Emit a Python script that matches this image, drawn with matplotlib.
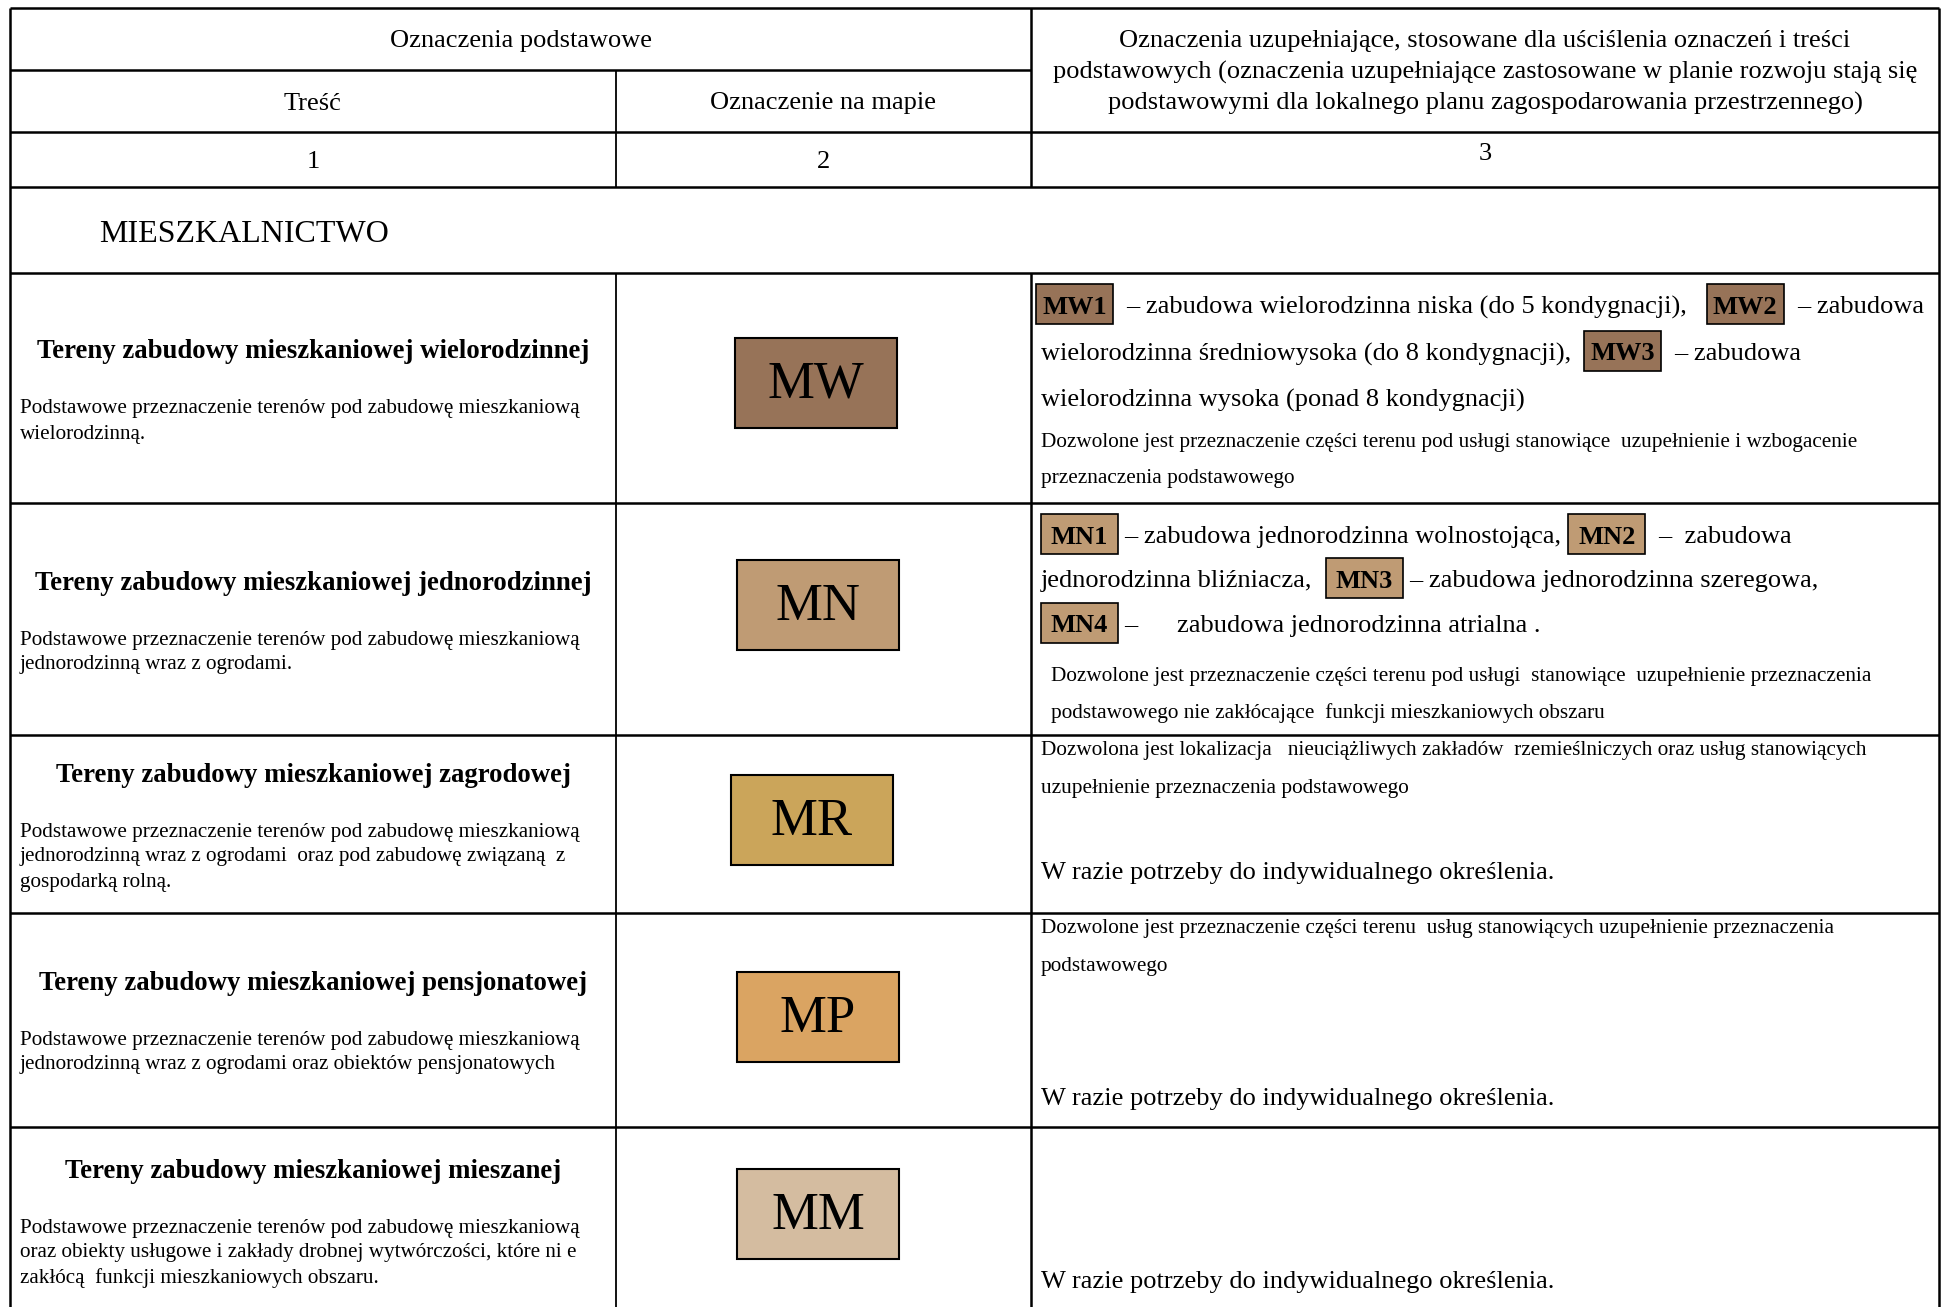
import matplotlib
matplotlib.use("Agg")
import matplotlib.pyplot as plt
from matplotlib.patches import Rectangle

plt.rcParams['font.family'] = ['Liberation Serif', 'DejaVu Serif']

# ---- table content ----
header_basic = "Oznaczenia podstawowe"
header_tresc = "Treść"
header_map = "Oznaczenie na mapie"
header_extra = ["Oznaczenia uzupełniające, stosowane dla uściślenia oznaczeń i treści",
                "podstawowych (oznaczenia uzupełniające zastosowane w planie rozwoju stają się",
                "podstawowymi dla lokalnego planu zagospodarowania przestrzennego)"]
col_numbers = ["1", "2", "3"]
section = "MIESZKALNICTWO"

codes = ["MW", "MN", "MR", "MP", "MM"]
code_colors = ["#977358", "#bf9b74", "#cba55a", "#daa462", "#d4bca0"]
titles = ["Tereny zabudowy mieszkaniowej wielorodzinnej",
          "Tereny zabudowy mieszkaniowej jednorodzinnej",
          "Tereny zabudowy mieszkaniowej zagrodowej",
          "Tereny zabudowy mieszkaniowej pensjonatowej",
          "Tereny zabudowy mieszkaniowej mieszanej"]
descriptions = [
    ["Podstawowe przeznaczenie terenów pod zabudowę mieszkaniową",
     "wielorodzinną."],
    ["Podstawowe przeznaczenie terenów pod zabudowę mieszkaniową",
     "jednorodzinną wraz z ogrodami."],
    ["Podstawowe przeznaczenie terenów pod zabudowę mieszkaniową",
     "jednorodzinną wraz z ogrodami  oraz pod zabudowę związaną  z",
     "gospodarką rolną."],
    ["Podstawowe przeznaczenie terenów pod zabudowę mieszkaniową",
     "jednorodzinną wraz z ogrodami oraz obiektów pensjonatowych"],
    ["Podstawowe przeznaczenie terenów pod zabudowę mieszkaniową",
     "oraz obiekty usługowe i zakłady drobnej wytwórczości, które ni e",
     "zakłócą  funkcji mieszkaniowych obszaru."],
]

# column 3: large lines (with inline code boxes) and small lines
extra_big = [
    [[("box", "MW1"), "  – zabudowa wielorodzinna niska (do 5 kondygnacji),   ", ("box", "MW2"), "  – zabudowa"],
     ["wielorodzinna średniowysoka (do 8 kondygnacji),  ", ("box", "MW3"), "  – zabudowa"],
     ["wielorodzinna wysoka (ponad 8 kondygnacji)"]],
    [[("box", "MN1"), " – zabudowa jednorodzinna wolnostojąca, ", ("box", "MN2"), "  –  zabudowa"],
     ["jednorodzinna bliźniacza,  ", ("box", "MN3"), " – zabudowa jednorodzinna szeregowa,"],
     [("box", "MN4"), " –      zabudowa jednorodzinna atrialna ."]],
    [], [], [],
]
extra_small = [
    ["Dozwolone jest przeznaczenie części terenu pod usługi stanowiące  uzupełnienie i wzbogacenie",
     "przeznaczenia podstawowego"],
    ["Dozwolone jest przeznaczenie części terenu pod usługi  stanowiące  uzupełnienie przeznaczenia",
     "podstawowego nie zakłócające  funkcji mieszkaniowych obszaru"],
    ["Dozwolona jest lokalizacja   nieuciążliwych zakładów  rzemieślniczych oraz usług stanowiących",
     "uzupełnienie przeznaczenia podstawowego"],
    ["Dozwolone jest przeznaczenie części terenu  usług stanowiących uzupełnienie przeznaczenia",
     "podstawowego"],
    [],
]
individual = "W razie potrzeby do indywidualnego określenia."
has_individual = [False, False, True, True, True]

# ---- layout (pixels) ----
W, H = 1946, 1307
X0, X1, X2, X3 = 10, 616, 1031, 1939
Y_TOP, Y_SUB, Y_NUM, Y_SEC, Y_ROW = 7.5, 69.5, 131.5, 187, 273
row_bounds = [273, 503, 735, 913, 1127, 1307]
DY = 3  # text baseline nudge
title_y = [349, 580, 772, 980, 1168]
desc_y0 = [406, 637, 829, 1037, 1225]
swatch_c = [(816, 383), (818, 605), (812, 820), (818, 1017), (818, 1214)]
big_y = [[304, 351, 397], [534, 578, 623], [], [], []]
box_x = [1036, 1041, 1041, 1041, 1041]
BOX_W, BOX_H = 77, 40
small_y = [[439, 476], [674, 710], [748, 786], [926, 963], []]
small_x = [1041, 1051, 1041, 1041, 1041]
indiv_y = [None, None, 870, 1096, 1279]

BIG, TITLE, SMALL, DESC = 19, 19.25, 15.3, 15.2

fig = plt.figure(figsize=(W / 100, H / 100), dpi=100)
ax = fig.add_axes([0, 0, 1, 1])
ax.set_xlim(0, W)
ax.set_ylim(H, 0)
ax.axis('off')
renderer = fig.canvas.get_renderer()

# ---- grid lines ----
lw = 1.8
ax.vlines([X0, X3], Y_TOP, H, color='black', lw=lw)
ax.vlines(X2, Y_TOP, Y_SEC, color='black', lw=lw)
ax.vlines(X2, Y_ROW, H, color='black', lw=lw)
ax.vlines(X1, Y_SUB, Y_SEC, color='black', lw=1.3)
ax.vlines(X1, Y_ROW, H, color='black', lw=1.3)
ax.hlines(Y_TOP, X0, X3, color='black', lw=lw)
ax.hlines(Y_SUB, X0, X2, color='black', lw=lw)
for y in [Y_NUM, Y_SEC] + row_bounds[:-1]:
    ax.hlines(y, X0, X3, color='black', lw=lw)

# ---- header ----
ax.text((X0 + X2) / 2, 38.5 + DY, header_basic, fontsize=BIG, ha='center', va='center')
ax.text((X0 + X1) / 2, 100.5 + DY, header_tresc, fontsize=BIG, ha='center', va='center')
ax.text((X1 + X2) / 2, 100.5 + DY, header_map, fontsize=BIG, ha='center', va='center')
for i, line in enumerate(header_extra):
    ax.text((X2 + X3) / 2, 38.5 + 31 * i + DY, line, fontsize=BIG, ha='center', va='center')
ax.text((X0 + X1) / 2, 159 + DY, col_numbers[0], fontsize=BIG, ha='center', va='center')
ax.text((X1 + X2) / 2, 159 + DY, col_numbers[1], fontsize=BIG, ha='center', va='center')
ax.text((X2 + X3) / 2, 151 + DY, col_numbers[2], fontsize=BIG, ha='center', va='center')
ax.text(99, 231 + DY + 1, section, fontsize=23, ha='left', va='center')

space_w = BIG / 72 * 100 * 0.25


def flow(x, y, segments, color):
    for seg in segments:
        if isinstance(seg, tuple):
            ax.text(x + BOX_W / 2, y + DY, seg[1], fontsize=BIG, fontweight='bold',
                    ha='center', va='center', zorder=3)
            ax.add_patch(Rectangle((x, y - BOX_H / 2), BOX_W, BOX_H, fc=color, ec='black',
                                   lw=1.2, zorder=2))
            x += BOX_W
        else:
            lead = len(seg) - len(seg.lstrip(' '))
            trail = len(seg) - len(seg.rstrip(' '))
            x += lead * space_w
            t = ax.text(x, y + DY, seg.strip(' '), fontsize=BIG, va='center', zorder=3)
            x += t.get_window_extent(renderer).width + trail * space_w


# ---- rows ----
for i, code in enumerate(codes):
    ax.text((X0 + X1) / 2, title_y[i] + DY, titles[i], fontsize=TITLE, fontweight='bold',
            ha='center', va='center')
    for j, line in enumerate(descriptions[i]):
        ax.text(20, desc_y0[i] + 25 * j + DY, line, fontsize=DESC, ha='left', va='center')
    cx, cy = swatch_c[i]
    ax.add_patch(Rectangle((cx - 81, cy - 45), 162, 90, fc=code_colors[i], ec='black', lw=1.5))
    ax.text(cx, cy + 2, code, fontsize=38, ha='center', va='center')
    for j, line in enumerate(extra_big[i]):
        x_start = box_x[i] if isinstance(line[0], tuple) else 1041
        flow(x_start, big_y[i][j], line, code_colors[i])
    for j, line in enumerate(extra_small[i]):
        ax.text(small_x[i], small_y[i][j] + DY, line, fontsize=SMALL, ha='left', va='center')
    if has_individual[i]:
        ax.text(1041, indiv_y[i] + DY, individual, fontsize=BIG, ha='left', va='center')

fig.savefig("out.png", dpi=100)
